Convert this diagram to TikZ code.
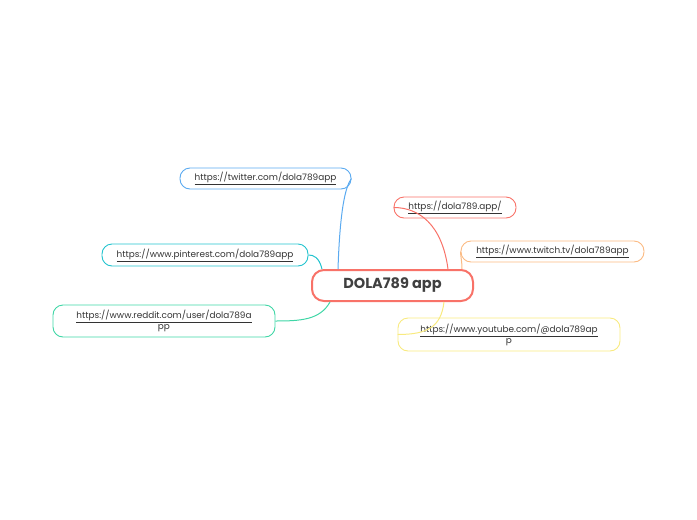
\documentclass[tikz,border=0pt]{standalone}
\usepackage{fontspec}
\setmainfont{Poppins}
\newcommand{\ul}[1]{\underline{#1}}
\begin{document}
\begin{tikzpicture}[x=1pt,y=-1pt,
  lnk/.style={draw=#1,line width=0.9pt,rounded corners=10pt,inner sep=0pt,align=center,font=\fontsize{8.9}{11}\selectfont,text=black!80},
  con/.style={draw=#1,line width=1pt}]
\useasboundingbox (0,0) rectangle (697,520);
\definecolor{cred}{HTML}{F87268}
\definecolor{cblue}{HTML}{5AAAF0}
\definecolor{ccyan}{HTML}{22C3CE}
\definecolor{cgreen}{HTML}{3FD6A6}
\definecolor{corange}{HTML}{FBBA82}
\definecolor{cyellow}{HTML}{F8EA80}
\node[draw=cred,line width=2pt,rounded corners=12pt,minimum width=161pt,minimum height=31pt,font=\bfseries\fontsize{14.5}{17}\selectfont,text=black!75] (c) at (392.5,285.5) {DOLA789 app};
\node[lnk=cblue,minimum width=171pt,minimum height=21pt] (tw) at (265.5,178.5) {\ul{https://twitter.com/dola789app}};
\node[lnk=cred,minimum width=122pt,minimum height=21pt] (dl) at (455,207.5) {\ul{https://dola789.app/}};
\node[lnk=ccyan,minimum width=206pt,minimum height=22pt] (pi) at (205,255) {\ul{https://www.pinterest.com/dola789app}};
\node[lnk=corange,minimum width=183pt,minimum height=21pt] (tv) at (552.5,251.5) {\ul{https://www.twitch.tv/dola789app}};
\node[lnk=cgreen,minimum width=222pt,minimum height=32pt] (rd) at (164,321) {\ul{https://www.reddit.com/user/dola789a}\\pp};
\node[lnk=cyellow,minimum width=222pt,minimum height=33pt] (yt) at (509,334.5) {\ul{https://www.youtube.com/@dola789ap}\\p};
\draw[con=cblue] ([xshift=-54.5pt]c.north) .. controls +(2,-60) and +(-6,8) .. (tw.east);
\draw[con=cred] ([xshift=55.5pt]c.north) .. controls +(-6,-45) and +(25,0) .. (dl.west);
\draw[con=corange] ([xshift=69.5pt]c.north) .. controls +(0,-8) and +(0,5) .. (tv.west);
\draw[con=ccyan] ([xshift=-70.5pt]c.north) .. controls +(-3,-12) and +(5,0) .. (pi.east);
\draw[con=cgreen] ([xshift=-62.5pt]c.south) .. controls +(-10,18) and +(25,0) .. (rd.east);
\draw[con=cyellow] ([xshift=51.5pt]c.south) .. controls +(-3,25) and +(30,0) .. (yt.west);
\end{tikzpicture}
\end{document}
